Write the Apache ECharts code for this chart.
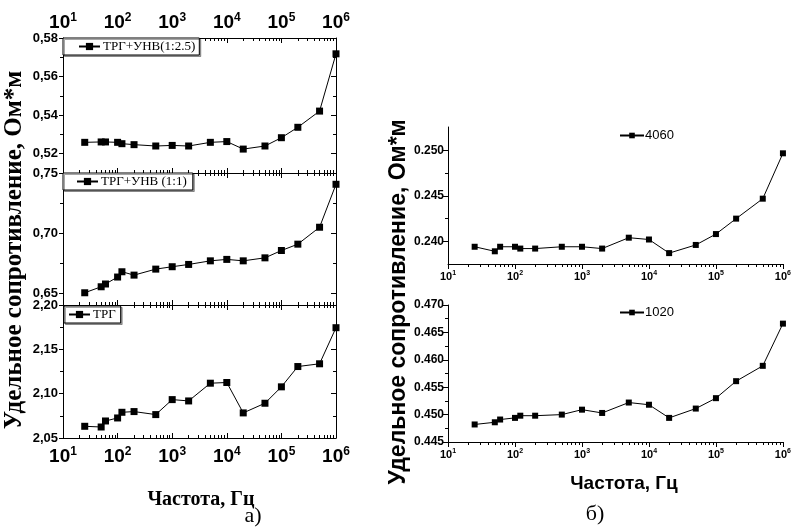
<!DOCTYPE html>
<html>
<head>
<meta charset="utf-8">
<script src="https://cdn.jsdelivr.net/npm/echarts@6/dist/echarts.min.js"></script>
<style>html,body{margin:0;padding:0;background:#fff}#c{width:794px;height:528px}</style>
</head>
<body>
<div id="c"></div>
<script>
// ---- data ----
const frequencies = [25, 50, 60, 100, 120, 200, 500, 1000, 2000, 5000, 1e4, 2e4, 5e4, 1e5, 2e5, 5e5, 1e6];
const trgUnv125 = [0.5259, 0.5261, 0.5261, 0.5259, 0.5252, 0.5247, 0.5240, 0.5243, 0.5240, 0.5259, 0.5263, 0.5224, 0.5240, 0.5283, 0.5337, 0.5421, 0.5718];
const trgUnv11  = [0.6502, 0.6552, 0.6575, 0.6633, 0.6677, 0.6649, 0.6699, 0.6719, 0.6738, 0.6768, 0.6780, 0.6768, 0.6793, 0.6854, 0.6907, 0.7048, 0.7406];
const trg       = [2.0632, 2.0624, 2.0692, 2.0726, 2.0790, 2.0798, 2.0764, 2.0933, 2.0918, 2.1118, 2.1126, 2.0783, 2.0892, 2.1077, 2.1306, 2.1337, 2.1744];
const s4060     = [0.2394, 0.2389, 0.2394, 0.2394, 0.2392, 0.2392, 0.2394, 0.2394, 0.2392, 0.2404, 0.2402, 0.2387, 0.2396, 0.2408, 0.2425, 0.2447, 0.2497];
const s1020     = [0.4482, 0.4486, 0.4491, 0.4494, 0.4498, 0.4498, 0.4500, 0.4509, 0.4503, 0.4522, 0.4518, 0.4494, 0.4511, 0.4530, 0.4561, 0.4589, 0.4666];
const decadeExponents = [1, 2, 3, 4, 5, 6];
const yTicksA1 = [0.52, 0.54, 0.56, 0.58], yMinorA1 = [0.53, 0.55, 0.57];
const yTicksA2 = [0.65, 0.70, 0.75], yMinorA2 = [0.675, 0.725];
const yTicksA3 = [2.05, 2.10, 2.15, 2.20], yMinorA3 = [2.075, 2.125, 2.175];
const yTicksB1 = [0.240, 0.245, 0.250], yMinorB1 = [0.2425, 0.2475];
const yTicksB2 = [0.445, 0.450, 0.455, 0.460, 0.465, 0.470], yMinorB2 = [0.4475, 0.4525, 0.4575, 0.4625, 0.4675];
const names = ['ТРГ+УНВ(1:2.5)', 'ТРГ+УНВ (1:1)', 'ТРГ', '4060', '1020'];

// log10 positions for the frequency axis
const logX = frequencies.map(f => Math.log10(f));
const minorLog = [];
for (let e = 1; e < 6; e++) for (let k = 2; k <= 9; k++) minorLog.push(Math.log10(k * Math.pow(10, e)));

const grids = [
  {left: 63, top: 38, width: 273, height: 135},
  {left: 63, top: 173, width: 273, height: 132},
  {left: 63, top: 305, width: 273, height: 133},
  {left: 448, top: 127, width: 338, height: 137},
  {left: 448, top: 305, width: 338, height: 137}
];

const xAxes = [], yAxes = [];
const BLACK = '#000';

function supLabel(big, small, margin) {
  return {
    show: true, margin: margin, color: BLACK,
    showMinLabel: true, showMaxLabel: true,
    formatter: v => '{b|10}{s|' + Math.round(v) + '}',
    rich: {
      b: {fontFamily: 'Liberation Sans', fontWeight: 'bold', fontSize: big, color: BLACK, lineHeight: big + 2},
      s: {fontFamily: 'Liberation Sans', fontWeight: 'bold', fontSize: small, color: BLACK, verticalAlign: 'top', lineHeight: big + 2, padding: [0, 0, big * 0.45, 0]}
    }
  };
}

function addX(grid, position, label, inside, majLen, minLen) {
  const idx = xAxes.length;
  xAxes.push({
    type: 'value', gridIndex: grid, position: position, min: 1, max: 6, interval: 1,
    axisLine: {show: true, onZero: false, lineStyle: {color: BLACK, width: 1}},
    axisTick: {show: true, inside: inside, length: majLen, lineStyle: {color: BLACK, width: 1}},
    axisLabel: label || {show: false},
    splitLine: {show: false}
  });
  xAxes.push({
    type: 'value', gridIndex: grid, position: position, min: 1, max: 6,
    axisLine: {show: false, onZero: false},
    axisTick: {show: true, inside: inside, length: minLen, customValues: minorLog, lineStyle: {color: BLACK, width: 1}},
    axisLabel: {show: false},
    splitLine: {show: false}
  });
  return idx;
}

function addY(grid, position, min, max, majors, minors, label, inside, majLen, minLen) {
  const idx = yAxes.length;
  yAxes.push({
    type: 'value', gridIndex: grid, position: position, min: min, max: max,
    axisLine: {show: true, onZero: false, lineStyle: {color: BLACK, width: 1}},
    axisTick: {show: true, inside: inside, length: majLen, customValues: majors, lineStyle: {color: BLACK, width: 1}},
    axisLabel: label ? Object.assign({customValues: majors}, label) : {show: false},
    splitLine: {show: false}
  });
  yAxes.push({
    type: 'value', gridIndex: grid, position: position, min: min, max: max,
    axisLine: {show: false, onZero: false},
    axisTick: {show: true, inside: inside, length: minLen, customValues: minors, lineStyle: {color: BLACK, width: 1}},
    axisLabel: {show: false},
    splitLine: {show: false}
  });
  return idx;
}

const leftYLabel = {
  show: true, margin: 5, color: BLACK, fontFamily: 'Liberation Sans', fontWeight: 'bold', fontSize: 13,
  formatter: v => v.toFixed(2).replace('.', ',')
};
const rightYLabel = {
  show: true, margin: 4, color: BLACK, fontFamily: 'Liberation Sans', fontWeight: 'bold', fontSize: 12,
  formatter: v => v.toFixed(3)
};

// left panel (a)
const ax = [], ay = [];
ax[0] = addX(0, 'bottom', null, true, 5, 3);
addX(0, 'top', supLabel(19, 12, 5), true, 5, 3);
ay[0] = addY(0, 'left', 0.51, 0.58, yTicksA1, yMinorA1, leftYLabel, false, 4, 3);
addY(0, 'right', 0.51, 0.58, yTicksA1, yMinorA1, null, true, 5, 3);

ax[1] = addX(1, 'bottom', null, true, 5, 3);
addX(1, 'top', null, true, 5, 3);
ay[1] = addY(1, 'left', 0.64, 0.75, yTicksA2, yMinorA2, leftYLabel, false, 4, 3);
addY(1, 'right', 0.64, 0.75, yTicksA2, yMinorA2, null, true, 5, 3);

ax[2] = addX(2, 'bottom', supLabel(19, 12, 8), true, 5, 3);
addX(2, 'top', null, true, 5, 3);
ay[2] = addY(2, 'left', 2.05, 2.20, yTicksA3, yMinorA3, leftYLabel, false, 4, 3);
addY(2, 'right', 2.05, 2.20, yTicksA3, yMinorA3, null, true, 5, 3);

// right panel (b)
ax[3] = addX(3, 'bottom', supLabel(11, 7, 6), false, 5, 3);
ay[3] = addY(3, 'left', 0.2375, 0.2526, yTicksB1, yMinorB1, rightYLabel, false, 6, 3);
ax[4] = addX(4, 'bottom', supLabel(11, 7, 6), false, 5, 3);
ay[4] = addY(4, 'left', 0.445, 0.470, yTicksB2, yMinorB2, rightYLabel, false, 6, 3);

const seriesValues = [trgUnv125, trgUnv11, trg, s4060, s1020];
const series = seriesValues.map((vals, i) => ({
  name: names[i], type: 'line', xAxisIndex: ax[i], yAxisIndex: ay[i],
  data: logX.map((x, j) => [x, vals[j]]),
  symbol: 'rect', symbolSize: i < 3 ? 7 : 6,
  lineStyle: {color: BLACK, width: 1}, itemStyle: {color: BLACK},
  animation: false, silent: true
}));

const serifLegend = (name, left, top, padding) => ({
  data: [name], left: left, top: top, orient: 'horizontal', selectedMode: false,
  padding: padding, itemWidth: 21, itemHeight: 9, itemGap: 0,
  borderColor: BLACK, borderWidth: 1, backgroundColor: '#fff',
  shadowColor: 'rgba(0,0,0,0.35)', shadowOffsetX: 1.5, shadowOffsetY: 1.5, shadowBlur: 0,
  textStyle: {fontFamily: 'Liberation Serif', fontSize: 13, color: BLACK, padding: [0, 0, 0, -2]}
});
const sansLegend = (name, left, top) => ({
  data: [name], left: left, top: top, orient: 'horizontal', selectedMode: false,
  padding: 0, itemWidth: 24, itemHeight: 7, itemGap: 0,
  textStyle: {fontFamily: 'Liberation Sans', fontSize: 13, color: BLACK, padding: [0, 0, 0, -4]}
});

const option = {
  animation: false,
  backgroundColor: '#fff',
  grid: grids,
  xAxis: xAxes,
  yAxis: yAxes,
  series: series,
  legend: [
    serifLegend(names[0], 63, 38, [2, 4, 2, 15]),
    serifLegend(names[1], 63, 173, [2, 6, 2, 13]),
    serifLegend(names[2], 64, 306, [2, 5, 2, 4]),
    sansLegend(names[3], 619, 129),
    sansLegend(names[4], 619, 306)
  ],
  graphic: [
    {type: 'text', x: 15, y: 250, rotation: Math.PI / 2,
     style: {text: 'Удельное сопротивление, Ом*м', font: 'bold 25px "Liberation Serif"', fill: BLACK, textAlign: 'center', textVerticalAlign: 'middle'}},
    {type: 'text', x: 201, y: 500,
     style: {text: 'Частота, Гц', font: 'bold 20px "Liberation Serif"', fill: BLACK, textAlign: 'center', textVerticalAlign: 'middle'}},
    {type: 'text', x: 253, y: 516,
     style: {text: 'а)', font: '22px "Liberation Serif"', fill: BLACK, textAlign: 'center', textVerticalAlign: 'middle'}},
    {type: 'text', x: 399, y: 302, rotation: Math.PI / 2,
     style: {text: 'Удельное сопротивление, Ом*м', font: 'bold 23px "Liberation Sans"', fill: BLACK, textAlign: 'center', textVerticalAlign: 'middle'}},
    {type: 'text', x: 624, y: 484,
     style: {text: 'Частота, Гц', font: 'bold 19px "Liberation Sans"', fill: BLACK, textAlign: 'center', textVerticalAlign: 'middle'}},
    {type: 'text', x: 595, y: 514,
     style: {text: 'б)', font: '22px "Liberation Serif"', fill: BLACK, textAlign: 'center', textVerticalAlign: 'middle'}}
  ]
};

const chart = echarts.init(document.getElementById('c'), null, {renderer: 'canvas'});
chart.setOption(option);
</script>
</body>
</html>
